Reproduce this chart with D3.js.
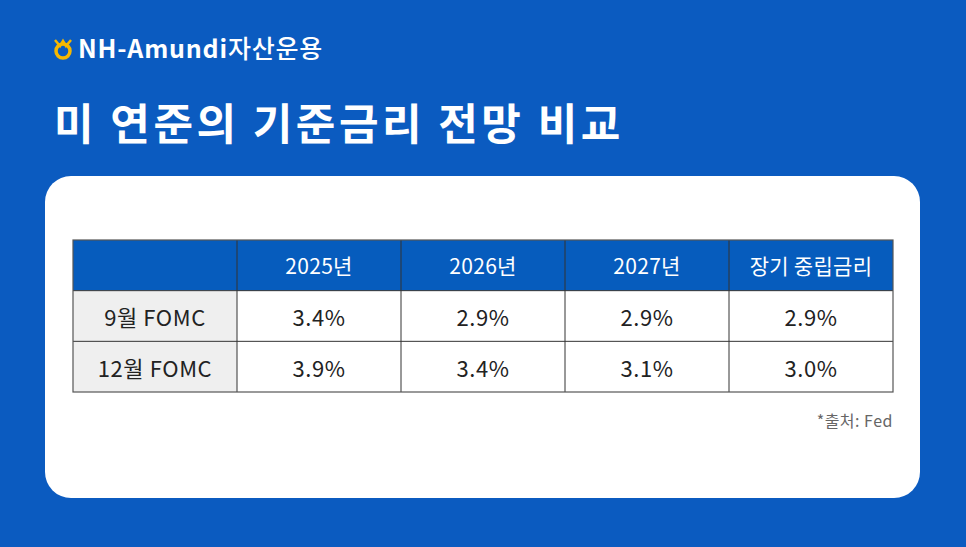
<!DOCTYPE html><html><head><meta charset="utf-8"><script src="https://cdn.jsdelivr.net/npm/d3@7"></script>
<style>body{margin:0;background:#0b5bc0}text{font-family:"Noto Sans CJK KR","Noto Sans",sans-serif}</style></head><body>
<script>
const columns = ["", "2025년", "2026년", "2027년", "장기 중립금리"];
const rowLabels = ["9월 FOMC", "12월 FOMC"];
const fomcSep = [3.4, 2.9, 2.9, 2.9];
const fomcDec = [3.9, 3.4, 3.1, 3.0];
const rows = [fomcSep, fomcDec];

const W=966,H=547;
const svg=d3.select("body").append("svg").attr("width",W).attr("height",H);
svg.append("rect").attr("width",W).attr("height",H).attr("fill","#0b5bc0");
const lg=svg.append("g").attr("transform","translate(63,49)");
lg.append("circle").attr("r",7).attr("fill","none").attr("stroke","#f6b800").attr("stroke-width",3.5).attr("cy",2);
lg.append("path").attr("d","M-8,-9 L-3,-3 L0,-8 L3,-3 L8,-9").attr("fill","none").attr("stroke","#f6b800").attr("stroke-width",2.5);
svg.append("text").attr("x",78).attr("y",58).attr("fill","#fff").attr("font-size",25).attr("font-weight",700).attr("letter-spacing",0.8).text("NH-Amundi").append("tspan").attr("font-weight",500).text("자산운용");
svg.append("text").attr("x",54).attr("y",140).attr("fill","#fff").attr("font-size",43).attr("font-weight",700).attr("letter-spacing",3.5).text("미 연준의 기준금리 전망 비교");
svg.append("rect").attr("x",45).attr("y",176).attr("width",875).attr("height",322).attr("rx",26).attr("fill","#fff");

const x=d3.scaleBand().domain(d3.range(columns.length)).range([73,893]);
const y=d3.scaleBand().domain(d3.range(rows.length+1)).range([240,392]);
const g=svg.append("g");
g.append("rect").attr("x",73).attr("y",y(0)).attr("width",820).attr("height",y.bandwidth()).attr("fill","#065cbd");
g.selectAll(".lab").data(rowLabels).join("rect").attr("x",x(0)).attr("y",(d,i)=>y(i+1)).attr("width",x.bandwidth()).attr("height",y.bandwidth()).attr("fill","#efefef");
const txt=(xx,yy,t,fill,fs,ls)=>g.append("text").attr("x",xx).attr("y",yy).attr("text-anchor","middle").attr("dominant-baseline","central").attr("fill",fill).attr("font-size",fs).attr("letter-spacing",ls||0).text(t);
columns.forEach((c,i)=>{ if(c) txt(x(i)+x.bandwidth()/2,y(0)+y.bandwidth()/2,c,"#fff",21,0.3); });
rowLabels.forEach((r,j)=>{
  txt(x(0)+x.bandwidth()/2,y(j+1)+y.bandwidth()/2,r,"#222",22,0.6);
  rows[j].forEach((v,i)=>txt(x(i+1)+x.bandwidth()/2,y(j+1)+y.bandwidth()/2,v.toFixed(1)+"%","#222",22,0.5));
});
d3.range(1,columns.length).forEach(i=>g.append("line").attr("x1",x(i)).attr("x2",x(i)).attr("y1",240).attr("y2",392).attr("stroke","#333").attr("stroke-width",1));
d3.range(1,rows.length+1).forEach(j=>g.append("line").attr("x1",73).attr("x2",893).attr("y1",y(j)).attr("y2",y(j)).attr("stroke","#333").attr("stroke-width",1));
g.append("rect").attr("x",73).attr("y",240).attr("width",820).attr("height",152).attr("fill","none").attr("stroke","#555").attr("stroke-width",1.2);
svg.append("text").attr("x",893).attr("y",427).attr("text-anchor","end").attr("fill","#666").attr("font-size",16).attr("letter-spacing",0.5).text("*출처: Fed");
</script></body></html>
